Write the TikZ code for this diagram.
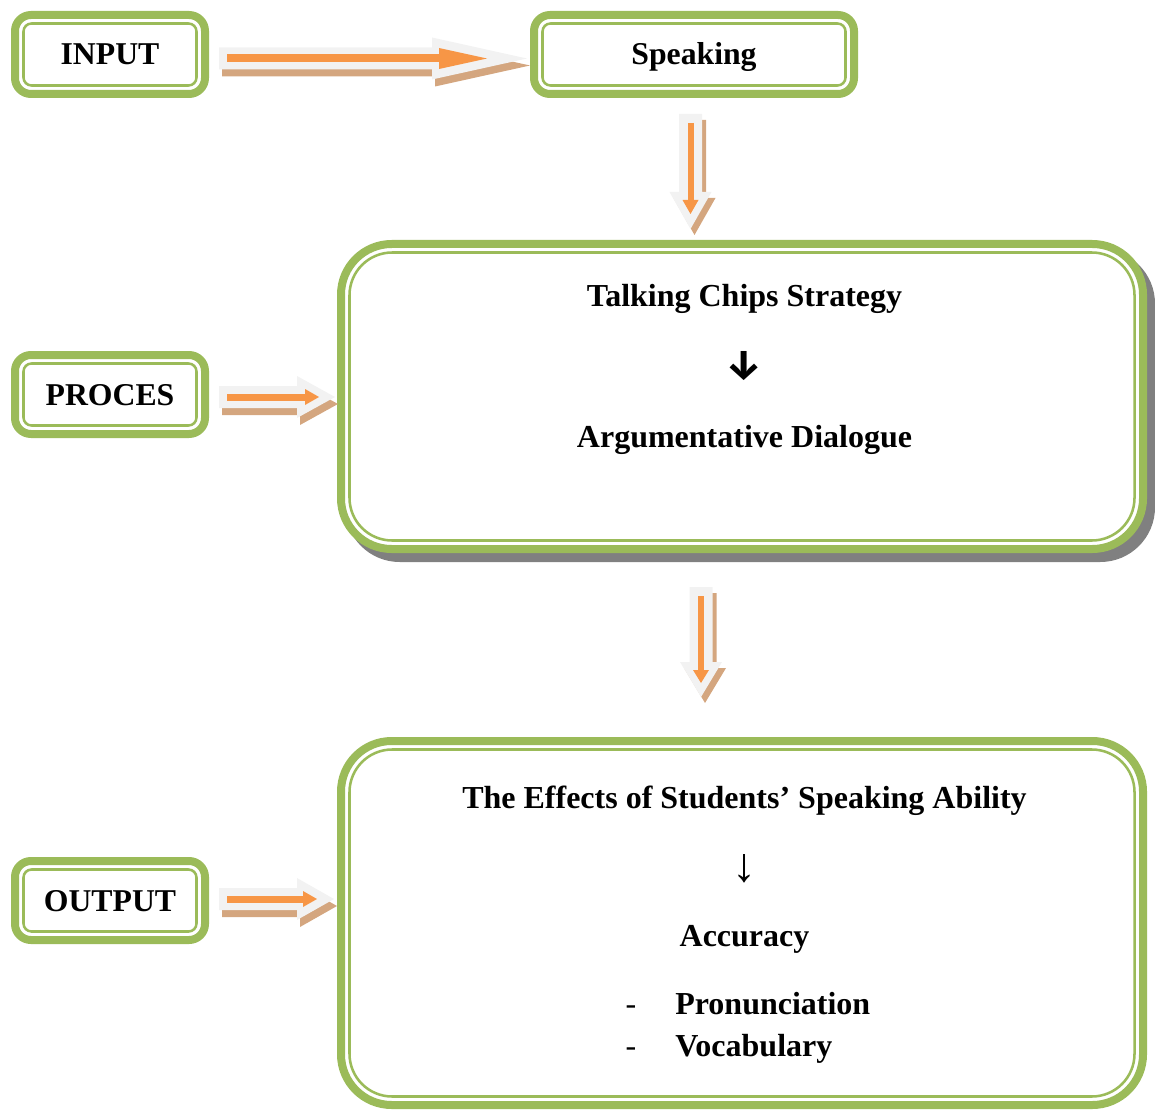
\documentclass[tikz,border=0pt]{standalone}
\usepackage{fontspec}
\setmainfont{Liberation Serif}
\newfontfamily\arrowfont{Fira Sans}
\usetikzlibrary{backgrounds}
\definecolor{boxgreen}{RGB}{155,187,89}
\definecolor{arrorange}{RGB}{247,150,70}
\definecolor{arrgray}{RGB}{242,242,242}
\definecolor{arrtan}{RGB}{212,166,127}
\definecolor{shadowgray}{RGB}{128,128,128}
\tikzset{
  smallbox/.style={draw=boxgreen, line width=6pt, rounded corners=12pt, fill=white,
    minimum width=142.5pt, minimum height=59.25pt, outer sep=0pt, inner sep=0pt,
    text height=15.75pt, text depth=0pt, font=\fontsize{23.8}{28}\selectfont\bfseries},
  bigbox/.style={draw=boxgreen, line width=6pt, rounded corners=38pt, fill=white,
    minimum width=601.5pt, outer sep=0pt, inner sep=0pt},
  thinsmall/.style={draw=boxgreen, line width=1.9pt, rounded corners=6pt},
  thinbig/.style={draw=boxgreen, line width=1.9pt, rounded corners=32pt},
  lbl/.style={font=\fontsize{24}{28}\selectfont\bfseries, inner sep=0pt},
  dashlbl/.style={font=\fontsize{24}{28}\selectfont, inner sep=0pt},
}
% horizontal block arrow: x0 xh xt yc oxh oxt ohw ow
\newcommand{\HArr}[8]{%
  \foreach \dx/\dy/\col in {3/7/arrtan,0/0/arrgray}{%
    \fill[\col,shift={(\dx,\dy)}] (#1,#4-11) -- (#2,#4-11) -- (#2,#4-21) -- (#3,#4)
      -- (#2,#4+21) -- (#2,#4+11) -- (#1,#4+11) -- cycle;}
  \draw[arrorange,line width=#8*0.75pt] (#1+8,#4) -- (#5,#4);
  \fill[arrorange] (#5,#4-#7) -- (#6,#4) -- (#5,#4+#7) -- cycle;
}
% vertical block arrow: xc y0 yh yt oyh oyt ohw ow
\newcommand{\VArr}[8]{%
  \foreach \dx/\dy/\col in {4/6/arrtan,0/0/arrgray}{%
    \fill[\col,shift={(\dx,\dy)}] (#1-11.5,#2) -- (#1-11.5,#3) -- (#1-21,#3) -- (#1,#4)
      -- (#1+21,#3) -- (#1+11.5,#3) -- (#1+11.5,#2) -- cycle;}
  \draw[arrorange,line width=#8*0.75pt] (#1,#2+9) -- (#1,#5);
  \fill[arrorange] (#1-#7,#5) -- (#1,#6) -- (#1+#7,#5) -- cycle;
}
\begin{document}
\begin{tikzpicture}[x=0.75pt,y=-0.75pt]
\path[use as bounding box] (0,0) rectangle (1155,1112);

% small boxes
\node[smallbox] (input) at (110,54.5) {INPUT};
\node[smallbox, minimum width=240pt] (speak) at (694,54.5) {Speaking};
\node[smallbox] (proces) at (110,394.5) {PROCES};
\node[smallbox] (output) at (110,900.5) {OUTPUT};
\foreach \n in {input,speak,proces,output}
  \draw[thinsmall] ([shift={(8.5,8.5)}]\n.north west) rectangle ([shift={(-8.5,-8.5)}]\n.south east);

% big boxes
\node[bigbox, minimum height=228.75pt] (strat) at (742,396.5) {};
\node[bigbox, minimum height=273pt] (eff) at (742,923) {};
\begin{scope}[on background layer]
  \fill[shadowgray, rounded corners=41pt] ([shift={(4,5)}]strat.north west) rectangle ([shift={(12,13)}]strat.south east);
\end{scope}
\foreach \n in {strat,eff}
  \draw[thinbig] ([shift={(8.5,8.5)}]\n.north west) rectangle ([shift={(-8.5,-8.5)}]\n.south east);

% texts in big boxes
\node[lbl, anchor=base] (t1) at (744.5,306) {Talking Chips Strategy};
\node[inner sep=0pt, font=\fontsize{31}{32}\selectfont\arrowfont\bfseries] (a1) at (744.5,366) {↓};
\node[lbl, anchor=base] (t2) at (744.5,447) {Argumentative Dialogue};
\node[lbl, anchor=base] (t3) at (744.5,808) {The Effects of Students’ Speaking Ability};
\node[inner sep=0pt, font=\fontsize{36}{38}\selectfont] (a2) at (744.5,869) {↓};
\node[lbl, anchor=base] (t4) at (744.5,946) {Accuracy};
\node[dashlbl, anchor=base] (d1) at (631,1014) {-};
\node[lbl, anchor=base west] (t5) at (675,1014) {Pronunciation};
\node[dashlbl, anchor=base] (d2) at (631,1056) {-};
\node[lbl, anchor=base west] (t6) at (675,1056) {Vocabulary};

% block arrows
\HArr{219}{432}{527}{58.5}{439}{487}{10.5}{8}
\HArr{219}{297}{335}{397}{305}{319}{8}{7}
\HArr{219}{297}{334}{899}{303}{317}{8}{7}
\VArr{690.5}{114}{192}{229}{200}{214}{8}{6}
\VArr{701}{587}{662}{697}{670}{683}{8}{6}
\end{tikzpicture}
\end{document}
